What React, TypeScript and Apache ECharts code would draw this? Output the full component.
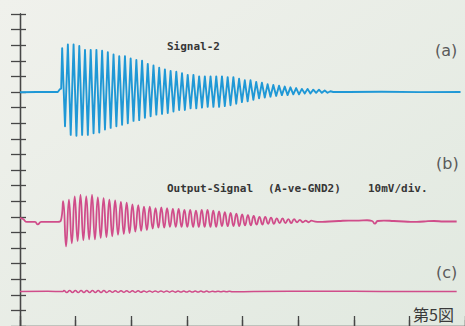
import React, { useEffect, useRef } from "react";
import * as echarts from "echarts";

// ---- Time base: divisions (8 horizontal divisions), amplitude: mV (10 mV/div) ----
const X_DIVS = 8;
const Y_DIVS = 20;

// Trace (a) Signal-2, blue
const A_BASELINE_DIV = 15.0;
const A_PRE: [number, number][] = [[0, -0.2], [0.3, 0], [0.68, 0], [0.72, 1.9], [0.74, 2.2]];
const A_START = 0.758;
const A_HALF_PERIOD = 0.0513;
const A_TOPS = [28, 30.5, 30.5, 29.5, 27, 27, 27, 26.5, 25.5, 24, 23, 23, 21.5, 20.5, 20, 18, 17, 15.5, 14.5, 13.5, 13, 12, 11, 11, 10, 10, 10, 10, 10, 9.5, 9.5, 8.5, 7.5, 7.5, 6.5, 6, 5, 4.5, 4, 3.5, 3, 2.5, 2, 2, 1.5, 1.5, 1, 0.5];
const A_BOTTOMS = [-22, -27.5, -28, -27.5, -27.5, -26.5, -26, -24, -23, -22, -21, -20, -18.5, -18, -16.5, -15.5, -14.5, -14, -13.5, -12.5, -11.5, -11.5, -10.5, -10.5, -10, -9.5, -9.5, -9.5, -9, -8.5, -7.5, -6.5, -6, -5, -4, -3.5, -3, -2.5, -2, -2, -1.5, -1.5, -1, -1, -0.5, -0.5, -0.5, 0];
const A_POST: [number, number][] = [[5.9, 0], [6.5, 0.2], [7.2, -0.1], [7.92, 0]];

// Trace (b) Output-Signal (A-ve-GND2), magenta
const B_BASELINE_DIV = 6.7;
const B_PRE: [number, number][] = [[0, 2.2], [0.054, 1.6], [0.125, -0.3], [0.27, -0.3], [0.32, -1.9], [0.38, -0.3], [0.68, -0.3], [0.735, 0.6]];
const B_START = 0.776;
const B_HALF_PERIOD = 0.0519;
const B_TOPS = [13, 14, 16, 17, 16, 17, 15.5, 15, 14, 13.5, 12.5, 12, 11, 10.5, 9.5, 9.5, 8.5, 9, 8.5, 8, 8, 7.5, 7.5, 7, 7.5, 7.5, 7, 6.5, 6, 5.5, 5, 4.5, 4, 3.5, 3, 3, 2.5, 2, 2, 1.5, 1.5, 1, 0.5, 0.5];
const B_BOTTOMS = [-16, -14, -12.5, -12, -11.5, -11.5, -10.5, -10, -9.5, -8.5, -8, -7.5, -6.5, -6, -5.5, -4.5, -4, -4, -3.5, -3.5, -3.5, -3.5, -3.5, -3.5, -3.5, -3.5, -3.5, -3, -3, -3, -3, -2.5, -2.5, -2, -2, -1.5, -1.5, -1, -1, -1, -0.5, -0.5, -0.5, 0];
const B_POST: [number, number][] = [[5.38, -0.3], [5.56, 0], [5.73, 0.3], [5.91, 0.6], [6.09, 0.6], [6.24, 0.8], [6.33, 0.3], [6.38, -1.4], [6.43, 0.3], [6.54, 0.6], [6.72, 0.3], [6.9, 0], [7.08, -0.3], [7.26, 0], [7.44, 0.3], [7.62, 0], [7.85, 0]];

// Trace (c), magenta, small ripple
const C_BASELINE_DIV = 2.21;
const C_PRE: [number, number][] = [[0, 0], [0.5, 0.1], [0.77, 0]];
const C_START = 0.79;
const C_HALF_PERIOD = 0.0513;
const C_TOPS = [0.7, 0.7, 0.7, 0.6, 0.6, 0.6, 0.6, 0.6, 0.5, 0.5, 0.5, 0.5, 0.5, 0.5, 0.4, 0.4, 0.4, 0.4, 0.4, 0.4, 0.3, 0.3, 0.3, 0.3, 0.3, 0.3, 0.2, 0.2, 0.2, 0.2];
const C_BOTTOMS = [-0.7, -0.7, -0.7, -0.6, -0.6, -0.6, -0.6, -0.6, -0.5, -0.5, -0.5, -0.5, -0.5, -0.5, -0.4, -0.4, -0.4, -0.4, -0.4, -0.4, -0.3, -0.3, -0.3, -0.3, -0.3, -0.3, -0.2, -0.2, -0.2, -0.2];
const C_POST: [number, number][] = [[4.2, 0], [5.5, 0.2], [6.5, 0], [7.85, 0]];

const LABEL_A = "Signal-2";
const LABEL_B1 = "Output-Signal";
const LABEL_B2 = "(A-ve-GND2)";
const LABEL_B3 = "10mV/div.";
const MARKS = ["(a)", "(b)", "(c)"];
const FIG = "第5図";

const MV_PER_DIV = 10;

function buildTrace(
  baseline: number,
  pre: [number, number][],
  start: number,
  half: number,
  tops: number[],
  bottoms: number[],
  post: [number, number][]
): [number, number][] {
  const out: [number, number][] = [];
  pre.forEach(([t, mv]) => out.push([t, baseline + mv / MV_PER_DIV]));
  const n = Math.max(tops.length, bottoms.length);
  for (let i = 0; i < n; i++) {
    if (i < tops.length) out.push([start + 2 * i * half, baseline + tops[i] / MV_PER_DIV]);
    if (i < bottoms.length) out.push([start + (2 * i + 1) * half, baseline + bottoms[i] / MV_PER_DIV]);
  }
  post.forEach(([t, mv]) => out.push([t, baseline + mv / MV_PER_DIV]));
  return out;
}

export default function App() {
  const ref = useRef<HTMLDivElement>(null);
  useEffect(() => {
    if (!ref.current) return;
    const chart = echarts.init(ref.current, undefined, { renderer: "svg" });
    const axisColor = "#474747";
    const blue = "#1f98d6";
    const magenta = "#d04d8a";
    const hiddenLabel = { show: false };
    const noSplit = { show: false };
    const baseX = { type: "value", min: 0, max: X_DIVS, interval: 1, axisLabel: hiddenLabel, splitLine: noSplit };
    const baseY = { type: "value", min: 0, max: Y_DIVS, interval: 1, axisLabel: hiddenLabel, splitLine: noSplit };
    const lineStyleAxis = { color: axisColor, width: 1.3 };
    const markStyle = { fontSize: 16, fontFamily: "DejaVu Sans", fill: "#5a5a5a", verticalAlign: "middle" };
    const monoStyle = { fontSize: 11, fontFamily: "DejaVu Sans Mono", fontWeight: "bold", fill: "#363636", verticalAlign: "middle" };
    chart.setOption({
      animation: false,
      backgroundColor: new echarts.graphic.LinearGradient(0, 0, 1, 1, [
        { offset: 0, color: "#f0f1ec" },
        { offset: 1, color: "#e1e9e0" },
      ]),
      grid: { left: 20, top: 14, width: 446, height: 312, containLabel: false },
      xAxis: [
        { ...baseX, position: "top", axisLine: { show: true, lineStyle: lineStyleAxis }, axisTick: { show: true, length: 6, lineStyle: lineStyleAxis } },
        { ...baseX, position: "top", axisLine: { show: false }, axisTick: { show: true, inside: true, length: 5, lineStyle: lineStyleAxis } },
        { ...baseX, position: "bottom", axisLine: { show: false }, axisTick: { show: true, inside: true, length: 10, lineStyle: lineStyleAxis } },
      ],
      yAxis: [
        { ...baseY, position: "left", axisLine: { show: true, lineStyle: lineStyleAxis }, axisTick: { show: true, inside: true, length: 6, lineStyle: lineStyleAxis } },
        { ...baseY, position: "right", axisLine: { show: true, lineStyle: lineStyleAxis }, axisTick: { show: true, inside: true, length: 9, lineStyle: lineStyleAxis } },
      ],
      series: [
        {
          type: "line",
          xAxisIndex: 0,
          yAxisIndex: 0,
          data: buildTrace(A_BASELINE_DIV, A_PRE, A_START, A_HALF_PERIOD, A_TOPS, A_BOTTOMS, A_POST),
          showSymbol: false,
          lineStyle: { color: blue, width: 1.9, join: "round" },
        },
        {
          type: "line",
          xAxisIndex: 0,
          yAxisIndex: 0,
          data: buildTrace(B_BASELINE_DIV, B_PRE, B_START, B_HALF_PERIOD, B_TOPS, B_BOTTOMS, B_POST),
          showSymbol: false,
          smooth: 0.5,
          lineStyle: { color: magenta, width: 1.8, join: "round" },
        },
        {
          type: "line",
          xAxisIndex: 0,
          yAxisIndex: 0,
          data: buildTrace(C_BASELINE_DIV, C_PRE, C_START, C_HALF_PERIOD, C_TOPS, C_BOTTOMS, C_POST),
          showSymbol: false,
          smooth: 0.5,
          lineStyle: { color: magenta, width: 1.5, join: "round" },
        },
      ],
      graphic: [
        { type: "text", x: 167, y: 46.5, style: { ...monoStyle, text: LABEL_A } },
        { type: "text", x: 167, y: 188.5, style: { ...monoStyle, text: LABEL_B1 } },
        { type: "text", x: 268, y: 188.5, style: { ...monoStyle, text: LABEL_B2 } },
        { type: "text", x: 368, y: 188.5, style: { ...monoStyle, text: LABEL_B3 } },
        { type: "text", x: 435, y: 50.5, style: { ...markStyle, text: MARKS[0] } },
        { type: "text", x: 436, y: 163, style: { ...markStyle, text: MARKS[1] } },
        { type: "text", x: 436, y: 272, style: { ...markStyle, text: MARKS[2] } },
        { type: "text", x: 413, y: 314, style: { fontSize: 16, fontFamily: "Noto Sans CJK JP", fill: "#3a3a3a", verticalAlign: "middle", text: FIG } },
      ],
    });
    return () => chart.dispose();
  }, []);
  return <div ref={ref} style={{ position: "absolute", left: 0, top: 0, width: 465, height: 326 }} />;
}
